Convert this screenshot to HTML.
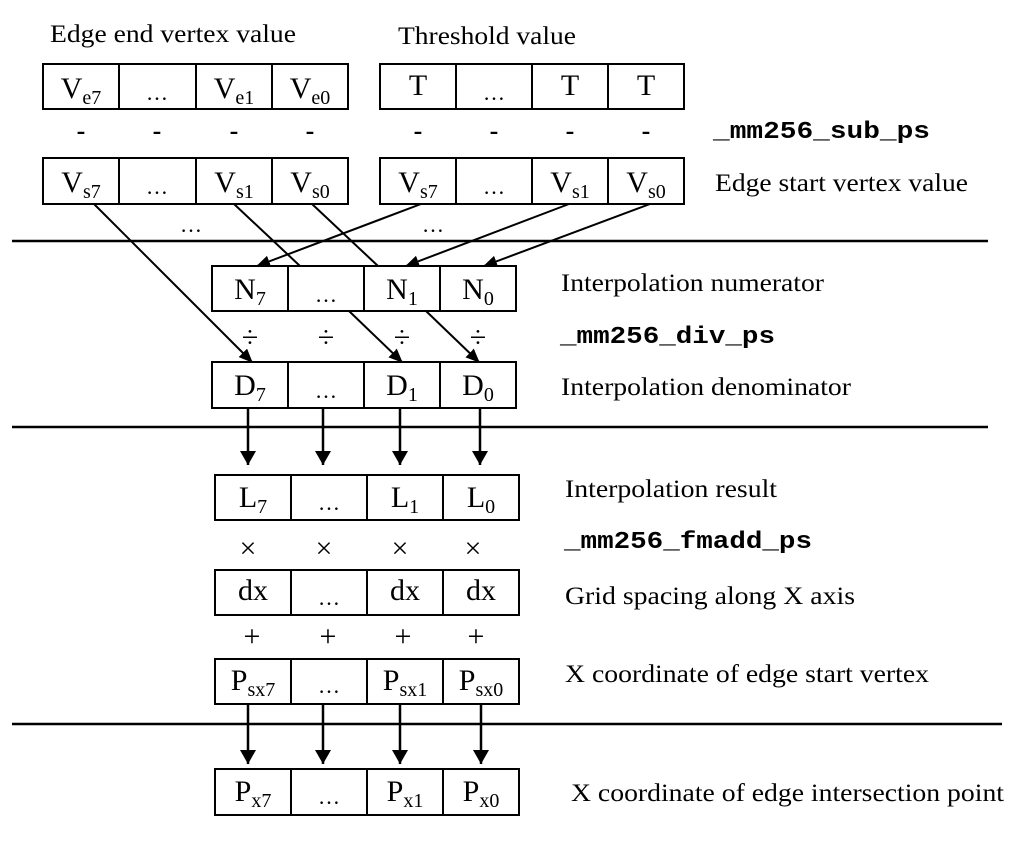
<!DOCTYPE html>
<html><head><style>body{margin:0;background:#fff}svg{display:block}</style></head><body>
<svg width="1036" height="850" viewBox="0 0 1036 850" xmlns="http://www.w3.org/2000/svg" font-family="Liberation Serif, serif">
<defs><marker id="a" markerWidth="14" markerHeight="12" refX="13" refY="6" orient="auto" markerUnits="userSpaceOnUse"><path d="M0,0 L14,6 L0,12 Z" fill="#000"/></marker>
<marker id="b" markerWidth="14" markerHeight="16" refX="14" refY="8" orient="auto" markerUnits="userSpaceOnUse"><path d="M0,0 L14,8 L0,16 Z" fill="#000"/></marker></defs>
<g stroke="#000" stroke-width="2" fill="none">
<rect x="43" y="64" width="305" height="45"/><line x1="119" y1="64" x2="119" y2="109"/><line x1="196" y1="64" x2="196" y2="109"/><line x1="272" y1="64" x2="272" y2="109"/>
<rect x="380" y="64" width="304" height="45"/><line x1="456" y1="64" x2="456" y2="109"/><line x1="532" y1="64" x2="532" y2="109"/><line x1="608" y1="64" x2="608" y2="109"/>
<rect x="43" y="158" width="305" height="46"/><line x1="119" y1="158" x2="119" y2="204"/><line x1="196" y1="158" x2="196" y2="204"/><line x1="272" y1="158" x2="272" y2="204"/>
<rect x="380" y="158" width="304" height="46"/><line x1="456" y1="158" x2="456" y2="204"/><line x1="532" y1="158" x2="532" y2="204"/><line x1="608" y1="158" x2="608" y2="204"/>
<g stroke-width="2.5"><line x1="12" y1="241" x2="988" y2="241"/><line x1="12" y1="427" x2="988" y2="427"/><line x1="12" y1="724" x2="1002" y2="724"/></g>
<rect x="212" y="266" width="304" height="45"/><line x1="288" y1="266" x2="288" y2="311"/><line x1="364" y1="266" x2="364" y2="311"/><line x1="440" y1="266" x2="440" y2="311"/>
<rect x="212" y="362" width="304" height="46"/><line x1="288" y1="362" x2="288" y2="408"/><line x1="364" y1="362" x2="364" y2="408"/><line x1="440" y1="362" x2="440" y2="408"/>
<rect x="215" y="475" width="304" height="45"/><line x1="291" y1="475" x2="291" y2="520"/><line x1="367" y1="475" x2="367" y2="520"/><line x1="443" y1="475" x2="443" y2="520"/>
<rect x="215" y="570" width="304" height="45"/><line x1="291" y1="570" x2="291" y2="615"/><line x1="367" y1="570" x2="367" y2="615"/><line x1="443" y1="570" x2="443" y2="615"/>
<rect x="215" y="659" width="304" height="45"/><line x1="291" y1="659" x2="291" y2="704"/><line x1="367" y1="659" x2="367" y2="704"/><line x1="443" y1="659" x2="443" y2="704"/>
<rect x="215" y="769" width="304" height="46"/><line x1="291" y1="769" x2="291" y2="815"/><line x1="367" y1="769" x2="367" y2="815"/><line x1="443" y1="769" x2="443" y2="815"/>
<line x1="94" y1="204" x2="252" y2="362" marker-end="url(#a)"/>
<line x1="234" y1="204" x2="300" y2="266"/><line x1="349" y1="311" x2="402" y2="362" marker-end="url(#a)"/>
<line x1="312" y1="204" x2="378" y2="266"/><line x1="426" y1="311" x2="479" y2="362" marker-end="url(#a)"/>
<line x1="421" y1="204" x2="257" y2="266" marker-end="url(#a)"/>
<line x1="569" y1="204" x2="406" y2="266" marker-end="url(#a)"/>
<line x1="650" y1="204" x2="484" y2="266" marker-end="url(#a)"/>
<g stroke-width="2.5">
<line x1="248" y1="408" x2="248" y2="465" marker-end="url(#b)"/><line x1="323" y1="408" x2="323" y2="465" marker-end="url(#b)"/><line x1="400" y1="408" x2="400" y2="465" marker-end="url(#b)"/><line x1="480" y1="408" x2="480" y2="465" marker-end="url(#b)"/>
<line x1="248" y1="704" x2="248" y2="764" marker-end="url(#b)"/><line x1="323" y1="704" x2="323" y2="764" marker-end="url(#b)"/><line x1="400" y1="704" x2="400" y2="764" marker-end="url(#b)"/><line x1="481" y1="704" x2="481" y2="764" marker-end="url(#b)"/>
</g></g>
<g font-size="25" fill="#000" lengthAdjust="spacingAndGlyphs">
<text x="50" y="42" textLength="246" lengthAdjust="spacingAndGlyphs">Edge end vertex value</text>
<text x="398" y="44" textLength="178" lengthAdjust="spacingAndGlyphs">Threshold value</text>
<text x="715" y="191" textLength="253" lengthAdjust="spacingAndGlyphs">Edge start vertex value</text>
<text x="561" y="291" textLength="263" lengthAdjust="spacingAndGlyphs">Interpolation numerator</text>
<text x="561" y="395" textLength="290" lengthAdjust="spacingAndGlyphs">Interpolation denominator</text>
<text x="565" y="497" textLength="212" lengthAdjust="spacingAndGlyphs">Interpolation result</text>
<text x="565" y="604" textLength="290" lengthAdjust="spacingAndGlyphs">Grid spacing along X axis</text>
<text x="565" y="682" textLength="364" lengthAdjust="spacingAndGlyphs">X coordinate of edge start vertex</text>
<text x="571" y="801" textLength="433" lengthAdjust="spacingAndGlyphs">X coordinate of edge intersection point</text>
</g>
<g font-family="Liberation Mono, monospace" font-weight="bold" font-size="24">
<text x="713" y="138" textLength="217" lengthAdjust="spacingAndGlyphs">_mm256_sub_ps</text>
<text x="560" y="343" textLength="215" lengthAdjust="spacingAndGlyphs">_mm256_div_ps</text>
<text x="564" y="548" textLength="248" lengthAdjust="spacingAndGlyphs">_mm256_fmadd_ps</text>
</g>
<g font-size="30" text-anchor="middle">
<text x="81" y="98">V<tspan font-size="20" dy="6">e7</tspan></text>
<text x="157" y="100" font-size="22">…</text>
<text x="234" y="98">V<tspan font-size="20" dy="6">e1</tspan></text>
<text x="310" y="98">V<tspan font-size="20" dy="6">e0</tspan></text>
<text x="418" y="95">T</text><text x="494" y="100" font-size="22">…</text><text x="570" y="95">T</text><text x="646" y="95">T</text>
<g font-size="26" font-weight="bold"><text x="81" y="139">-</text><text x="157" y="139">-</text><text x="234" y="139">-</text><text x="310" y="139">-</text>
<text x="418" y="139">-</text><text x="494" y="139">-</text><text x="570" y="139">-</text><text x="646" y="139">-</text></g>
<text x="81" y="192">V<tspan font-size="20" dy="6">s7</tspan></text>
<text x="157" y="194" font-size="22">…</text>
<text x="234" y="192">V<tspan font-size="20" dy="6">s1</tspan></text>
<text x="310" y="192">V<tspan font-size="20" dy="6">s0</tspan></text>
<text x="418" y="192">V<tspan font-size="20" dy="6">s7</tspan></text>
<text x="494" y="194" font-size="22">…</text>
<text x="570" y="192">V<tspan font-size="20" dy="6">s1</tspan></text>
<text x="646" y="192">V<tspan font-size="20" dy="6">s0</tspan></text>
<text x="191" y="232" font-size="22">…</text><text x="433" y="232" font-size="22">…</text>
<text x="250" y="299">N<tspan font-size="20" dy="6">7</tspan></text>
<text x="326" y="302" font-size="22">…</text>
<text x="402" y="299">N<tspan font-size="20" dy="6">1</tspan></text>
<text x="478" y="299">N<tspan font-size="20" dy="6">0</tspan></text>
<text x="250" y="347">÷</text><text x="326" y="347">÷</text><text x="402" y="347">÷</text><text x="478" y="347">÷</text>
<text x="250" y="395">D<tspan font-size="20" dy="6">7</tspan></text>
<text x="326" y="398" font-size="22">…</text>
<text x="402" y="395">D<tspan font-size="20" dy="6">1</tspan></text>
<text x="478" y="395">D<tspan font-size="20" dy="6">0</tspan></text>
<text x="253" y="507">L<tspan font-size="20" dy="6">7</tspan></text>
<text x="329" y="510" font-size="22">…</text>
<text x="405" y="507">L<tspan font-size="20" dy="6">1</tspan></text>
<text x="481" y="507">L<tspan font-size="20" dy="6">0</tspan></text>
<text x="248" y="558">×</text><text x="324" y="558">×</text><text x="400" y="558">×</text><text x="473" y="558">×</text>
<text x="253" y="600">dx</text><text x="329" y="605" font-size="22">…</text><text x="405" y="600">dx</text><text x="481" y="600">dx</text>
<text x="252" y="646">+</text><text x="328" y="646">+</text><text x="403" y="646">+</text><text x="476" y="646">+</text>
<text x="253" y="690">P<tspan font-size="20" dy="6">sx7</tspan></text>
<text x="329" y="693" font-size="22">…</text>
<text x="405" y="690">P<tspan font-size="20" dy="6">sx1</tspan></text>
<text x="481" y="690">P<tspan font-size="20" dy="6">sx0</tspan></text>
<text x="253" y="801">P<tspan font-size="20" dy="6">x7</tspan></text>
<text x="329" y="804" font-size="22">…</text>
<text x="405" y="801">P<tspan font-size="20" dy="6">x1</tspan></text>
<text x="481" y="801">P<tspan font-size="20" dy="6">x0</tspan></text>
</g>
</svg>
</body></html>
